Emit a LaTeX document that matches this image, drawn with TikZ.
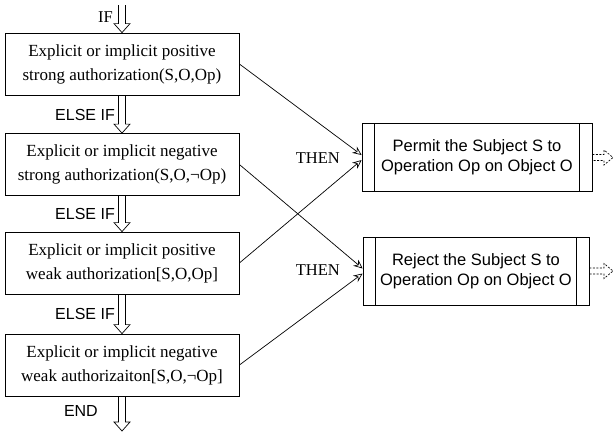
\documentclass[tikz,border=0pt]{standalone}
\usepackage{fontspec}
\setmainfont{Liberation Serif}
\newfontfamily\arial{Liberation Sans}
\usetikzlibrary{arrows.meta,calc}
\tikzset{
  cond/.style={draw, line width=0.8pt, minimum width=234pt, minimum height=62pt,
    align=center, inner sep=0pt, font=\fontsize{17}{24}\selectfont},
  act/.style={draw, line width=0.8pt, minimum height=68pt, align=center, inner sep=0pt,
    font=\arial\fontsize{16.5}{20}\selectfont,
    path picture={
      \draw[line width=0.8pt] ([xshift=12pt]path picture bounding box.north west) -- ([xshift=12pt]path picture bounding box.south west);
      \draw[line width=0.8pt] ([xshift=-13pt]path picture bounding box.north east) -- ([xshift=-13pt]path picture bounding box.south east);
    }},
  blk/.style={draw, line width=0.7pt, line join=miter},
  thenline/.style={line width=0.7pt, -{Stealth[open, length=9pt, width=8pt, inset=3pt]}},
  seriflabel/.style={font=\fontsize{16.5}{20}\selectfont, inner sep=0pt},
  sanslabel/.style={font=\arial\fontsize{16}{20}\selectfont, inner sep=0pt},
}
\newcommand\blockdown[2]{\draw[blk] let \p1=(#1), \p2=(#2) in
  (\x1-3.5pt,\y1) -- (\x1-3.5pt,\y2+9pt) -- (\x1-8pt,\y2+9pt) -- (\x1,\y2)
  -- (\x1+8pt,\y2+9pt) -- (\x1+3.5pt,\y2+9pt) -- (\x1+3.5pt,\y1);}
\newcommand\blockright[2]{\draw[blk, dash pattern=on 2pt off 1.5pt] let \p1=(#1), \p2=(#2) in
  (\x1,\y1+3pt) -- (\x2-9pt,\y1+3pt) -- (\x2-9pt,\y1+7.5pt) -- (\x2,\y1)
  -- (\x2-9pt,\y1-7.5pt) -- (\x2-9pt,\y1-3pt) -- (\x1,\y1-3pt);}
\begin{document}
\begin{tikzpicture}[x=1pt, y=1pt]
\useasboundingbox (0,0) rectangle (614,-432);

% condition boxes
\node[cond] (c1) at (122,-64) {Explicit or implicit positive\\strong authorization(S,O,Op)};
\node[cond] (c2) at (122,-164.5) {Explicit or implicit negative\\strong authorization(S,O,¬Op)};
\node[cond] (c3) at (122,-263) {Explicit or implicit positive\\weak authorization[S,O,Op]};
\node[cond] (c4) at (122,-365) {Explicit or implicit negative\\weak authorizaiton[S,O,¬Op]};

% action boxes
\node[act, minimum width=230pt] (pA) at (477,-157.5) {Permit the Subject S to\\Operation Op on Object O};
\node[act, minimum width=226pt] (pB) at (476,-271) {Reject the Subject S to\\Operation Op on Object O};

% free ends
\coordinate (ifstart) at (122,-5);
\coordinate (endpt) at (122,-431);
\coordinate (outA) at (613,-158);
\coordinate (outB) at (613,-271);

% block arrows
\blockdown{ifstart}{c1.north}
\blockdown{c1.south}{c2.north}
\blockdown{c2.south}{c3.north}
\blockdown{c3.south}{c4.north}
\blockdown{c4.south}{endpt}
\blockright{pA.east}{outA}
\blockright{pB.east}{outB}

% labels
\node[seriflabel, anchor=east] (lif) at (113,-17) {IF};
\node[sanslabel, anchor=east] (le1) at (115,-115) {ELSE IF};
\node[sanslabel, anchor=east] (le2) at (115,-214) {ELSE IF};
\node[sanslabel, anchor=east] (le3) at (115,-314) {ELSE IF};
\node[sanslabel, anchor=east] (lend) at (98,-411) {END};
\node[seriflabel, anchor=east] (t1) at (340,-158) {THEN};
\node[seriflabel, anchor=east] (t2) at (340,-270) {THEN};

% THEN connectors
\draw[thenline] (c1.east) -- ([yshift=2.5pt]pA.west);
\draw[thenline] (c3.east) -- ([yshift=-2.5pt]pA.west);
\draw[thenline] (c2.east) -- ([yshift=2.5pt]pB.west);
\draw[thenline] (c4.east) -- ([yshift=-2.5pt]pB.west);
\end{tikzpicture}
\end{document}
